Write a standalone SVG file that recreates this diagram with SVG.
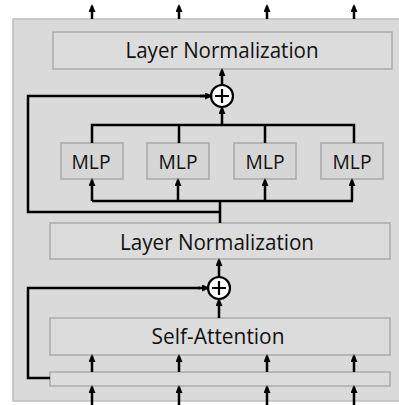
<svg xmlns="http://www.w3.org/2000/svg" width="399" height="405" viewBox="0 0 399 405">
<defs>
<marker id="ah" markerWidth="8" markerHeight="7" refX="6" refY="3.5" orient="auto" markerUnits="userSpaceOnUse">
<path d="M0,0 L8,3.5 L0,7 Z" fill="#000"/>
</marker>
</defs>
<style>
.box{fill:#dcdcdc;stroke:#ababab;stroke-width:1.5}
.mlp{fill:#d6d6d6;stroke:#a8a8a8;stroke-width:1.5}
.t{font-family:"Open Sans","Liberation Sans",sans-serif;fill:#111;text-anchor:middle}
.c{fill:none;stroke:#000;stroke-width:2.5}
.a{fill:none;stroke:#000;stroke-width:2.5;marker-end:url(#ah)}
.plus{fill:#fff;stroke:#000;stroke-width:2.2}
</style>
<rect width="399" height="405" fill="#fff"/>
<rect id="outer" x="13" y="19" width="400" height="382" fill="#dadada" stroke="#bdbdbd" stroke-width="1.5"/>
<g id="ln-top"><rect class="box" x="53" y="32" width="339" height="37"/><text class="t" x="222" y="58" font-size="21" textLength="193" lengthAdjust="spacingAndGlyphs">Layer Normalization</text></g>
<g id="mlp1"><rect class="mlp" x="61" y="143" width="62" height="36"/><text class="t" x="91" y="169" font-size="20" textLength="39" lengthAdjust="spacingAndGlyphs">MLP</text></g>
<g id="mlp2"><rect class="mlp" x="147" y="143" width="62" height="36"/><text class="t" x="178" y="169" font-size="20" textLength="39" lengthAdjust="spacingAndGlyphs">MLP</text></g>
<g id="mlp3"><rect class="mlp" x="234" y="143" width="62" height="36"/><text class="t" x="265" y="169" font-size="20" textLength="39" lengthAdjust="spacingAndGlyphs">MLP</text></g>
<g id="mlp4"><rect class="mlp" x="321" y="143" width="62" height="36"/><text class="t" x="352" y="169" font-size="20" textLength="39" lengthAdjust="spacingAndGlyphs">MLP</text></g>
<g id="ln-mid"><rect class="box" x="50" y="223" width="340" height="36"/><text class="t" x="217" y="250" font-size="21" textLength="194" lengthAdjust="spacingAndGlyphs">Layer Normalization</text></g>
<g id="self-attention"><rect class="box" x="50" y="318" width="340" height="37"/><text class="t" x="218" y="344" font-size="21" textLength="133" lengthAdjust="spacingAndGlyphs">Self-Attention</text></g>
<g id="input-bar"><rect class="box" x="50" y="372" width="340" height="14"/></g>
<g id="add-top"><circle class="plus" cx="222" cy="96" r="11"/><path d="M215,96 H229 M222,89 V103" stroke="#000" stroke-width="2.2"/></g>
<g id="add-bottom"><circle class="plus" cx="219" cy="288" r="11"/><path d="M212,288 H226 M219,281 V295" stroke="#000" stroke-width="2.2"/></g>
<g id="connectors">
<path class="a" d="M92,19 V6"/>
<path class="a" d="M179,19 V6"/>
<path class="a" d="M267,19 V6"/>
<path class="a" d="M354,19 V6"/>
<path class="a" d="M222,85 V70"/>
<path class="c" d="M92,143 V125 H354 V143 M179,125 V143 M265,125 V143"/>
<path class="a" d="M222,125 V108"/>
<path class="c" d="M220,212 H28 V96 H205"/>
<path class="a" d="M200,96 H211"/>
<path class="c" d="M220,223 V201 M92,201 H353"/>
<path class="a" d="M92,201 V180"/>
<path class="a" d="M178,201 V180"/>
<path class="a" d="M265,201 V180"/>
<path class="a" d="M352,201 V180"/>
<path class="a" d="M219,277 V260"/>
<path class="a" d="M219,318 V300"/>
<path class="c" d="M50,378 H28 V288 H200"/>
<path class="a" d="M198,288 H208"/>
<path class="a" d="M92,372 V356"/>
<path class="a" d="M179,372 V356"/>
<path class="a" d="M267,372 V356"/>
<path class="a" d="M354,372 V356"/>
<path class="a" d="M92,405 V387"/>
<path class="a" d="M179,405 V387"/>
<path class="a" d="M267,405 V387"/>
<path class="a" d="M354,405 V387"/>
</g>
</svg>
